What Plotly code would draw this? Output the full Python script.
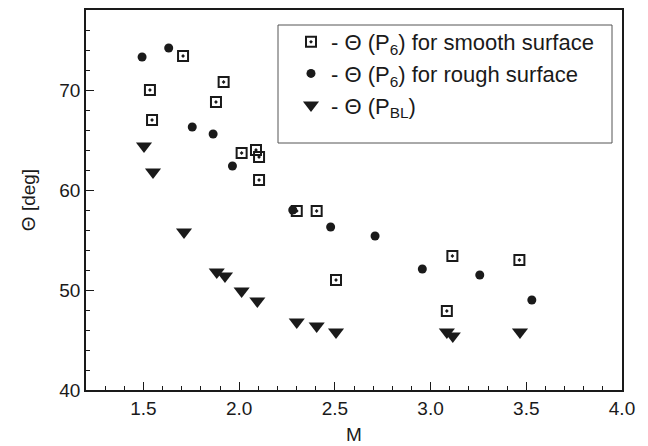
import plotly.graph_objects as go

# Smooth surface, Theta(P6)
smooth_M = [1.534, 1.545, 1.707, 1.879, 1.919, 2.013, 2.088, 2.104, 2.104, 2.301, 2.405, 2.506, 3.085, 3.114, 3.464]
smooth_T = [70.0, 67.0, 73.4, 68.8, 70.8, 63.7, 64.0, 63.3, 61.0, 57.9, 57.9, 51.0, 47.9, 53.4, 53.0]

# Rough surface, Theta(P6)
rough_M = [1.493, 1.632, 1.755, 1.864, 1.965, 2.280, 2.478, 2.710, 2.957, 3.257, 3.529]
rough_T = [73.3, 74.2, 66.3, 65.6, 62.4, 58.0, 56.3, 55.4, 52.1, 51.5, 49.0]

# Theta(P_BL)
bl_M = [1.503, 1.550, 1.712, 1.883, 1.926, 2.013, 2.095, 2.301, 2.405, 2.506, 3.085, 3.116, 3.467]
bl_T = [64.4, 61.8, 55.8, 51.8, 51.4, 49.9, 48.9, 46.8, 46.4, 45.8, 45.8, 45.4, 45.8]

labels = ["- \u0398 (P<sub>6</sub>) for smooth surface",
          "- \u0398 (P<sub>6</sub>) for rough surface",
          "- \u0398 (P<sub>BL</sub>)"]

ink = "#1a1a1a"
font_family = "Liberation Sans, Arial"
fig = go.Figure()
fig.add_trace(go.Scatter(x=smooth_M, y=smooth_T, mode="markers", name=labels[0], legendgroup="a",
                         marker=dict(symbol="square-open-dot", size=10, color=ink, line=dict(width=2, color=ink))))
fig.add_trace(go.Scatter(x=rough_M, y=rough_T, mode="markers", name=labels[1], legendgroup="b",
                         marker=dict(symbol="circle", size=9, color=ink)))
fig.add_trace(go.Scatter(x=bl_M, y=bl_T, mode="markers", name=labels[2], legendgroup="c",
                         marker=dict(symbol="triangle-down", size=14, color=ink)))

axis_common = dict(showline=True, linecolor=ink, linewidth=1.5, mirror=True, ticks="inside",
                   tickcolor=ink, tickwidth=1.2, showgrid=False, zeroline=False, automargin=False,
                   tickfont=dict(family=font_family, size=19, color=ink))

fig.update_xaxes(range=[1.2, 4.0], dtick=0.5, tick0=1.5, tickformat=".1f", ticklen=8,
                 minor=dict(dtick=0.1, tick0=1.2, ticks="inside", ticklen=4, tickcolor=ink),
                 title=dict(text="M", font=dict(family=font_family, size=19, color=ink), standoff=10),
                 **axis_common)
fig.update_yaxes(range=[40, 78], dtick=10, tick0=40, ticklen=8,
                 minor=dict(dtick=2, tick0=40, ticks="inside", ticklen=4, tickcolor=ink),
                 title=dict(text="\u0398 [deg]", font=dict(family=font_family, size=19, color=ink), standoff=19),
                 **axis_common)

fig.add_shape(type="rect", xref="paper", yref="paper",
              x0=(278 - 86) / 536, x1=(612 - 86) / 536, y0=(390 - 143) / 380, y1=(390 - 25) / 380,
              line=dict(color="#555555", width=1), fillcolor="rgba(0,0,0,0)")

fig.update_layout(
    width=648, height=446,
    margin=dict(l=86, r=26, t=10, b=56),
    plot_bgcolor="white", paper_bgcolor="white",
    legend=dict(x=(291 - 86) / 536, y=(390 - 21) / 380, xanchor="left", yanchor="top",
                bgcolor="rgba(0,0,0,0)", borderwidth=0, tracegroupgap=0,
                font=dict(family=font_family, size=22, color=ink)),
)

fig.write_html("out.html")
